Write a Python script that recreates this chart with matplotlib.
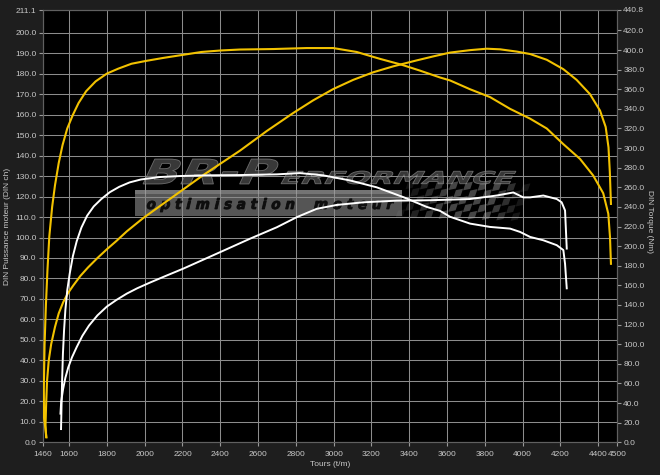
import matplotlib
matplotlib.use("Agg")
import matplotlib.pyplot as plt
from matplotlib.textpath import TextPath
from matplotlib.font_manager import FontProperties
from matplotlib.patches import PathPatch, Polygon, Rectangle
from matplotlib.transforms import Affine2D

# ---------------- data ----------------
x_ticks = [1460, 1600, 1800, 2000, 2200, 2400, 2600, 2800, 3000, 3200,
           3400, 3600, 3800, 4000, 4200, 4400, 4500]
left_ticks = [0, 10, 20, 30, 40, 50, 60, 70, 80, 90, 100, 110, 120, 130,
              140, 150, 160, 170, 180, 190, 200, 211.1]
right_ticks = [0, 20, 40, 60, 80, 100, 120, 140, 160, 180, 200, 220, 240,
               260, 280, 300, 320, 340, 360, 380, 400, 420, 440.8]

# tuned engine (yellow)
y_power_rpm = [1478, 1475, 1478, 1483, 1492, 1505, 1525, 1545, 1569, 1595,
               1622, 1660, 1700, 1750, 1800, 1850, 1905, 1992, 2098, 2204,
               2310, 2416, 2504, 2646, 2786, 2892, 2998, 3104, 3210, 3316,
               3440, 3530, 3616, 3722, 3810, 3881, 3969, 4040, 4128, 4216,
               4286, 4357, 4410, 4440, 4455, 4462, 4468]
y_power_ch = [2.6, 8.4, 18.0, 30.0, 40.0, 48.0, 56.3, 63.0, 68.5, 73.0,
              76.6, 81.3, 85.4, 90.0, 94.3, 98.3, 103.0, 109.5, 116.5, 123.5,
              130.5, 137.0, 142.4, 152.0, 160.8, 167.0, 172.5, 177.0, 180.7, 183.6,
              186.5, 188.5, 190.3, 191.5, 192.2, 191.9, 190.8, 189.6, 186.8, 182.2,
              177.0, 170.0, 162.0, 154.0, 144.0, 132.0, 116.4]

y_torque_rpm = [1480, 1467, 1466, 1470, 1477, 1485, 1495, 1510, 1525, 1545,
                1565, 1590, 1620, 1650, 1690, 1740, 1800, 1860, 1930, 2010,
                2100, 2200, 2300, 2400, 2504, 2681, 2857, 2998, 3122, 3245,
                3360, 3457, 3563, 3616, 3722, 3828, 3934, 4040, 4128, 4216,
                4304, 4374, 4427, 4454, 4463, 4468]
y_torque_nm = [5.0, 25.0, 55.0, 100.0, 140.0, 175.0, 210.0, 240.0, 262.0, 285.0,
               303.0, 320.0, 334.0, 346.0, 358.0, 368.0, 376.0, 381.0, 386.0, 389.0,
               392.0, 395.0, 398.0, 399.5, 400.5, 401.0, 402.0, 402.0, 398.0, 391.0,
               385.0, 379.0, 372.0, 369.0, 360.0, 352.0, 340.0, 330.0, 320.0, 304.0,
               289.0, 272.0, 254.0, 233.0, 209.0, 182.0]

# stock engine (white)
w_power_rpm = [1554, 1558, 1568, 1580, 1595, 1615, 1640, 1670, 1705, 1750,
               1800, 1850, 1905, 1960, 2028, 2110, 2204, 2381, 2557, 2699,
               2804, 2910, 3016, 3157, 3334, 3511, 3722, 3863, 3951, 4004,
               4040, 4110, 4181, 4207, 4225, 4234]
w_power_ch = [14.0, 20.0, 26.0, 31.5, 36.5, 41.5, 46.5, 52.0, 57.0, 62.0,
              66.3, 69.5, 72.6, 75.2, 78.0, 81.2, 84.8, 92.1, 99.4, 105.0,
              109.9, 114.0, 115.9, 117.2, 118.0, 118.2, 118.8, 120.5, 122.0, 119.6,
              119.6, 120.5, 118.8, 117.2, 113.2, 94.6]

w_torque_rpm = [1557, 1560, 1563, 1567, 1573, 1580, 1590, 1603, 1620, 1640,
                1665, 1695, 1730, 1770, 1815, 1865, 1920, 1980, 2081, 2187,
                2328, 2504, 2699, 2822, 2945, 3087, 3228, 3369, 3493, 3563,
                3616, 3722, 3828, 3934, 3987, 4040, 4110, 4181, 4216, 4225, 4234]
w_torque_nm = [13.5, 40.0, 65.0, 90.0, 114.0, 135.0, 155.0, 172.0, 190.0, 205.0,
               219.0, 231.0, 240.5, 248.0, 255.0, 260.5, 265.0, 268.0, 270.5, 271.5,
               272.2, 272.5, 273.2, 274.5, 272.2, 267.0, 260.0, 250.0, 240.0, 236.0,
               230.0, 223.0, 219.6, 217.9, 214.5, 209.4, 206.0, 201.0, 196.0, 182.0, 157.0]

# ---------------- figure ----------------
W, H = 660, 475
AX_L, AX_R, AX_T, AX_B = 42.7, 617.0, 10.0, 442.3
fig = plt.figure(figsize=(W / 100, H / 100), dpi=100, facecolor="#1e1e1e")
ax = fig.add_axes([AX_L / W, 1 - AX_B / H, (AX_R - AX_L) / W, (AX_B - AX_T) / H])
ax.set_facecolor("black")
FONT = "Liberation Sans"
TXT = "#c8c8c8"
YEL = "#f2c200"
FS = 6.0

ax.set_xlim(1460, 4500)
ax.set_ylim(0, 211.1)
ax.set_xticks(x_ticks)
ax.set_xticklabels([str(t) for t in x_ticks])
ax.set_yticks(left_ticks)
ax.set_yticklabels([f"{t:.1f}" for t in left_ticks])
ax.grid(True, color="#8c8c8c", lw=0.75)
ax.tick_params(colors="#9a9a9a", labelcolor=TXT, labelsize=FS, length=3, width=0.8, pad=1.5)
ax.tick_params(axis="x", pad=3)
for lab in ax.get_xticklabels() + ax.get_yticklabels():
    lab.set_fontfamily(FONT)
for s in ax.spines.values():
    s.set_color("#606060")
    s.set_linewidth(0.8)

ax2 = ax.twinx()
ax2.set_ylim(0, 440.8)
ax2.set_yticks(right_ticks)
ax2.set_yticklabels([f"{t:.1f}" for t in right_ticks])
ax2.tick_params(colors="#9a9a9a", labelcolor=TXT, labelsize=FS, length=3, width=0.8, pad=1.5)
for lab in ax2.get_yticklabels():
    lab.set_fontfamily(FONT)
for s in ax2.spines.values():
    s.set_color("#606060")
    s.set_linewidth(0.8)

ax.set_ylabel("DIN Puissance moteur (DIN ch)", color=TXT, fontsize=FS, family=FONT)
ax.yaxis.set_label_coords(-0.056, 0.5)
ax2.set_ylabel("DIN Torque (Nm)", color=TXT, fontsize=FS, family=FONT, rotation=-90, va="center")
ax2.yaxis.set_label_coords(1.057, 0.51)
ax.set_xlabel("Tours (t/m)", color=TXT, fontsize=FS, family=FONT)
ax.xaxis.set_label_coords(0.5, -0.043)


# ---------------- watermark logo ----------------
def to_ax(px, py):
    return ((px - AX_L) / (AX_R - AX_L), (AX_B - py) / (AX_B - AX_T))


def fit_text(s, x0, y0, x1, y1, fc, ec, skew=14, alpha=0.6, z=1.7, weight="bold"):
    tp = TextPath((0, 0), s, size=10, prop=FontProperties(family="DejaVu Sans", weight=weight))
    tp = Affine2D().skew_deg(skew, 0).transform_path(tp)
    e = tp.get_extents()
    sx = (x1 - x0) / (AX_R - AX_L) / e.width
    sy = (y1 - y0) / (AX_B - AX_T) / e.height
    ax0, ay1 = to_ax(x0, y1)
    tr = Affine2D().translate(-e.x0, -e.y0).scale(sx, sy).translate(ax0, ay1)
    p = tr.transform_path(tp)
    ax.add_patch(PathPatch(p, facecolor=fc, edgecolor=ec, lw=0.6, alpha=alpha,
                           transform=ax.transAxes, zorder=z))


# band
bx0, by0 = to_ax(135, 216)
bx1, by1 = to_ax(402, 190)
ax.add_patch(Rectangle((bx0, by0), bx1 - bx0, by1 - by0, transform=ax.transAxes,
                       facecolor="#8a8a8a", edgecolor="none", alpha=0.62, zorder=1.6))
bx0b, by0b = to_ax(135, 194)
ax.add_patch(Rectangle((bx0b, by0b), bx1 - bx0b, by1 - by0b, transform=ax.transAxes,
                       facecolor="#b0b0b0", edgecolor="none", alpha=0.35, zorder=1.61))
# checkered flag
cs = 7.2
for r in range(5):
    for c in range(17):
        if (r + c) % 2:
            continue
        px = 398 + c * cs + (4 - r) * 2.5
        py = 182 + r * cs + 0.02 * (c * cs) ** 1.3 * 0.3
        fade = min(1.0, 0.25 + c / 8.0) * (1.0 - max(0, c - 12) / 6.0)
        pts = [to_ax(px, py), to_ax(px + cs, py - 1.5), to_ax(px + cs - 2.5, py + cs - 1.5),
               to_ax(px - 2.5, py + cs)]
        ax.add_patch(Polygon(pts, closed=True, transform=ax.transAxes, facecolor="#9a9a9a",
                             edgecolor="none", alpha=0.45 * fade, zorder=1.6))

fit_text("BR-P", 143, 159, 278, 184, "#5e5e5e", "#a0a0a0", skew=18, alpha=0.6)
fit_text("ERFORMANCE", 281, 171, 516, 184, "#5e5e5e", "#a0a0a0", skew=18, alpha=0.6)
fit_text("o p t i m i s a t i o n    m o t e u r", 147, 198, 394, 212,
         "#080808", "#080808", skew=14, alpha=0.9, z=1.65)

# ---------------- curves ----------------
ax.plot(y_power_rpm, y_power_ch, color=YEL, lw=1.5, zorder=3)
ax.plot(w_power_rpm, w_power_ch, color="white", lw=1.4, zorder=3)
ax2.plot(y_torque_rpm, y_torque_nm, color=YEL, lw=1.5, zorder=3)
ax2.plot(w_torque_rpm, w_torque_nm, color="white", lw=1.4, zorder=3)

fig.savefig("out.png", dpi=100, facecolor=fig.get_facecolor())
